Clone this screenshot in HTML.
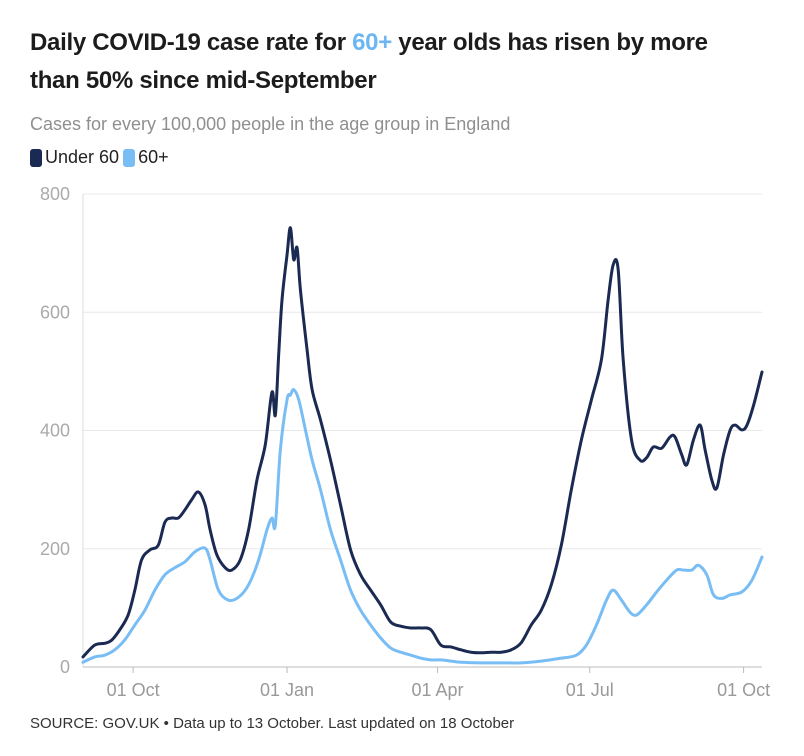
<!DOCTYPE html>
<html><head><meta charset="utf-8"><style>
body{margin:0;background:#fff;font-family:"Liberation Sans",sans-serif;}
.wrap{position:relative;width:804px;height:756px;overflow:hidden}
.title{position:absolute;left:30px;top:24px;font-size:24px;font-weight:bold;color:#1c1c1c;line-height:38px;width:725px;letter-spacing:-0.3px}
.sub{position:absolute;left:30px;top:114px;font-size:18px;color:#8f8f8f}
.legend{position:absolute;left:30px;top:147px;font-size:18px;color:#222;display:flex;align-items:center}
.sw{display:inline-block;width:12px;height:18px;border-radius:3px;margin-right:3px}
.src{position:absolute;left:30px;top:715px;font-size:15px;color:#333}
</style></head><body><div class="wrap">
<div class="title">Daily COVID-19 case rate for <span style="color:#6cb6f2">60+</span> year olds has risen by more than 50% since mid-September</div>
<div class="sub">Cases for every 100,000 people in the age group in England</div>
<div class="legend"><span class="sw" style="background:#1a2a52"></span><span>Under 60</span><span class="sw" style="background:#79bdf5;margin-left:4px"></span><span>60+</span></div>
<svg id="svg" width="804" height="756" style="position:absolute;left:0;top:0"></svg>
<div class="src">SOURCE: GOV.UK • Data up to 13 October. Last updated on 18 October</div>
</div>
<script>
const yTicks=[0,200,400,600,800];
const xTickLabels=["01 Oct","01 Jan","01 Apr","01 Jul","01 Oct"];
const xTickDays=[30,122,212,303,395];
const under60Days=[0,7,13,17,22,27,31,35,40,45,49,53,57,61,65,69,73,76,80,85,89,94,99,104,109,113,115,117,119,122,124,126,128,130,134,137,142,148,154,160,166,172,178,184,190,196,202,208,214,220,226,232,238,244,250,256,262,268,274,280,286,292,298,304,310,314,317,320,323,328,333,337,341,346,351,354,358,361,365,369,372,376,379,383,387,390,394,397,401,406];
const under60Values=[17,37,40,45,63,88,130,181,198,206,245,252,252,266,283,296,274,232,190,168,164,181,232,316,376,465,426,528,621,697,743,689,709,638,536,469,418,350,274,198,156,130,105,76,69,66,66,63,37,34,29,25,24,25,25,29,41,71,96,139,206,300,384,452,520,621,680,672,520,384,350,354,372,370,389,389,359,342,384,409,367,316,303,359,401,409,401,409,443,499];
const over60Days=[0,7,13,19,25,31,37,43,49,55,61,67,73,76,81,87,93,99,105,110,113,115,118,122,124,126,129,133,137,142,148,154,160,166,172,178,184,190,196,202,208,214,220,226,238,250,262,274,286,295,301,307,313,317,322,327,331,337,343,349,355,359,364,368,373,377,382,387,394,400,406];
const over60Values=[8,17,20,29,46,71,96,130,156,168,178,195,201,181,130,113,118,139,181,232,252,240,367,452,460,469,452,401,350,300,232,181,130,96,71,49,32,25,20,15,12,12,10,8,7,7,7,10,15,20,37,71,113,130,113,93,88,105,127,147,164,164,164,172,156,122,116,122,127,147,186];
const svg=document.getElementById('svg');const NS='http://www.w3.org/2000/svg';
const X0=83,X1=762,Y0=667,Y1=194,DMAX=406;
const xs=d=>X0+d*(X1-X0)/DMAX;const ys=v=>Y0-v*(Y0-Y1)/800;
function mk(t,a){const e=document.createElementNS(NS,t);for(const k in a)e.setAttribute(k,a[k]);svg.appendChild(e);return e;}
yTicks.forEach((v,i)=>{
 const g=mk('line',{x1:X0,x2:X1,y1:ys(v),y2:ys(v),stroke:v===0?'#bbb':'#e8e8e8','stroke-width':1});
 
 
 const t=mk('text',{x:70,y:ys(v)+6,'text-anchor':'end','font-size':18,fill:'#aaa','font-family':'Liberation Sans, sans-serif'});t.textContent=v;
 
 
});
const ax=mk('line',{x1:X0,x2:X0,y1:Y1,y2:Y0,stroke:'#ddd','stroke-width':1});


xTickDays.forEach((d,i)=>{
 const tk=mk('line',{x1:xs(d),x2:xs(d),y1:Y0,y2:Y0+6,stroke:'#bbb'});
 
 
 const t=mk('text',{x:xs(d),y:696,'text-anchor':'middle','font-size':18,fill:'#999','font-family':'Liberation Sans, sans-serif'});t.textContent=xTickLabels[i];
 
 
});
function line(days,vals,col,name){
 const P=days.map((d,i)=>[xs(d),ys(vals[i])]);
 let s='M'+P[0][0]+','+P[0][1];
 for(let i=0;i<P.length-1;i++){
  const p0=P[Math.max(0,i-1)],p1=P[i],p2=P[i+1],p3=P[Math.min(P.length-1,i+2)];
  const c1=[p1[0]+(p2[0]-p0[0])/6,p1[1]+(p2[1]-p0[1])/6],c2=[p2[0]-(p3[0]-p1[0])/6,p2[1]-(p3[1]-p1[1])/6];
  s+=' C'+c1+' '+c2+' '+p2;
 }
 const p=mk('path',{d:s,fill:'none',stroke:col,'stroke-width':3,'stroke-linejoin':'round','stroke-linecap':'round'});
 
 
}
line(over60Days,over60Values,'#79bdf5','line-60-plus');
line(under60Days,under60Values,'#1a2a52','line-under-60');
</script></body></html>
